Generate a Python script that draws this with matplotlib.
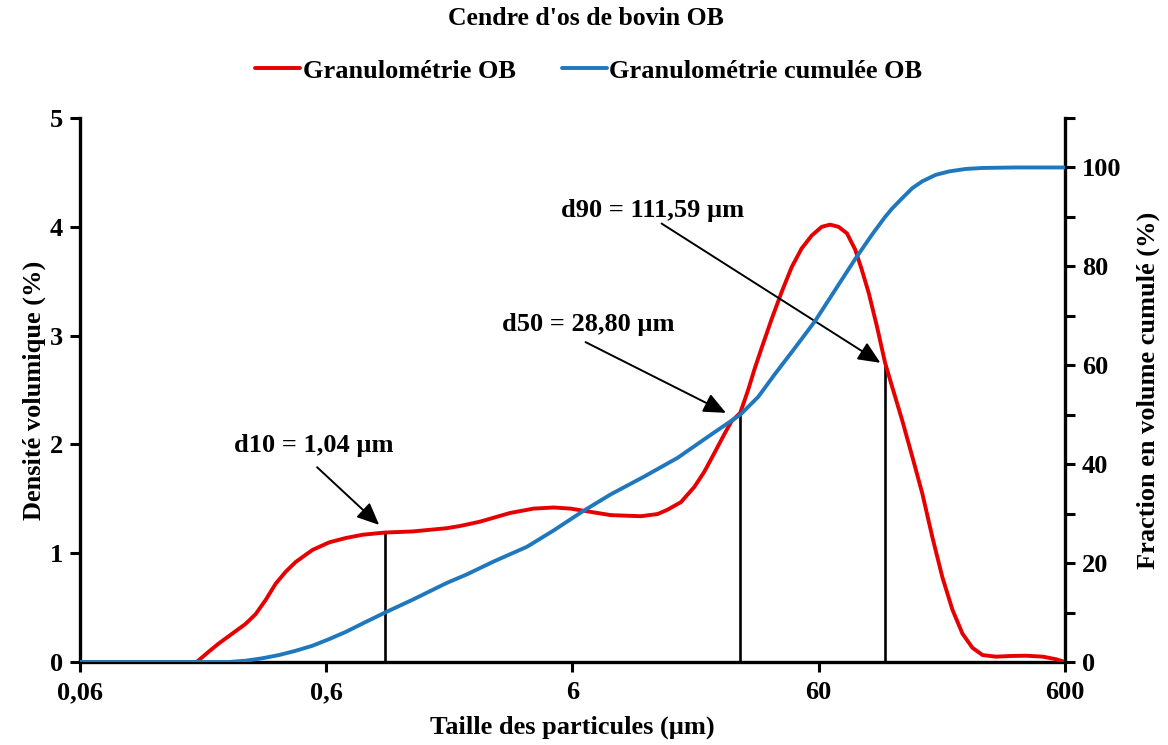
import matplotlib
matplotlib.use("Agg")
import matplotlib.pyplot as plt
import matplotlib.ticker as ticker

plt.rcParams['font.family'] = ['Liberation Serif', 'DejaVu Serif']
plt.rcParams['font.weight'] = 'bold'

# taille des particules (µm) et densité volumique (%)
size_red = [0.06, 0.1786, 0.1999, 0.2195, 0.2488, 0.2821, 0.310, 0.3404, 0.3739, 0.4107,
            0.4512, 0.5275, 0.6171, 0.7218, 0.844, 1.04, 1.346, 1.854, 2.094, 2.527,
            3.35, 4.17, 5.03, 5.89, 6.67, 8.58, 11.37, 13.3, 14.6, 16.55, 18.76, 20.6,
            22.6, 24.9, 26.5, 28.8, 31.0, 33.0, 35.1, 38.6, 42.4, 46.6, 51.1, 56.2,
            61.7, 66.7, 72.2, 78.1, 84.4, 89.9, 95.8, 103.5, 111.59, 119.2, 131.0,
            143.8, 158.0, 173.5, 190.6, 209.5, 230.1, 252.7, 277.6, 314.6, 356.9,
            417.0, 488.0, 553.0, 600.0]
density = [0.0, 0.0, 0.095, 0.17, 0.26, 0.35, 0.44, 0.57, 0.72, 0.83,
           0.92, 1.03, 1.10, 1.14, 1.17, 1.19, 1.20, 1.23, 1.25, 1.29,
           1.37, 1.41, 1.42, 1.41, 1.39, 1.35, 1.34, 1.36, 1.40, 1.47, 1.61, 1.75,
           1.92, 2.10, 2.21, 2.29, 2.50, 2.70, 2.88, 3.15, 3.40, 3.63, 3.80, 3.92,
           4.00, 4.02, 4.00, 3.94, 3.79, 3.60, 3.39, 3.08, 2.75, 2.53, 2.22,
           1.89, 1.55, 1.15, 0.78, 0.48, 0.26, 0.13, 0.064, 0.049, 0.055,
           0.058, 0.049, 0.025, 0.0]

# fraction en volume cumulée (%)
size_blue = [0.06, 0.2195, 0.241, 0.2821, 0.3297, 0.386, 0.4512, 0.5275, 0.6171, 0.7218,
             0.844, 1.04, 1.346, 1.854, 2.231, 2.864, 3.92, 5.03, 6.57, 8.58, 11.73,
             16.05, 21.95, 28.8, 34.05, 39.8, 48.0, 57.9, 69.9, 84.4, 98.7, 111.59,
             119.2, 131.0, 143.8, 158.0, 179.0, 203.0, 237.4, 277.6, 378.6, 600.0]
cumul = [0.0, 0.0, 0.0, 0.26, 0.75, 1.41, 2.28, 3.29, 4.64, 6.11,
         7.80, 10.0, 12.6, 16.0, 17.7, 20.3, 23.3, 26.6, 30.4, 33.9, 37.5,
         41.3, 46.0, 50.0, 53.6, 58.2, 63.5, 68.9, 75.2, 81.5, 86.4, 90.0,
         91.7, 93.8, 95.8, 97.2, 98.5, 99.2, 99.7, 99.9, 100.0, 100.0]

d_labels = ["d10 = 1,04 µm", "d50 = 28,80 µm", "d90 = 111,59 µm"]
d_values = [1.04, 28.80, 111.59]
d_heights = [1.19, 2.29, 2.75]
# positions du texte, départ et pointe des flèches (x en µm, y en densité)
text_pos = [(0.532, 1.99), (6.97, 3.10), (12.7, 4.15)]
arrow_from = [(0.551, 1.79), (6.78, 2.94), (13.8, 4.03)]
arrow_to = [(0.984, 1.26), (25.2, 2.29), (106.8, 2.75)]

xticks = [0.06, 0.6, 6, 60, 600]
xtick_labels = ["0,06", "0,6", "6", "60", "600"]

red = "#e60000"
blue = "#1f78be"
fs = 19

fig = plt.figure(figsize=(11.68, 7.45), dpi=100)
ax = fig.add_axes([0.0685, 0.1114, 0.8433, 0.7302])
ax2 = ax.twinx()

l1, = ax.plot(size_red, density, color=red, lw=2.8, zorder=3, solid_capstyle='round')
l2, = ax2.plot(size_blue, cumul, color=blue, lw=2.8, zorder=3, solid_capstyle='round')

for xv, h in zip(d_values, d_heights):
    ax.plot([xv, xv], [0, h], color="black", lw=1.9, zorder=2)

for lab, tp, af, at in zip(d_labels, text_pos, arrow_from, arrow_to):
    ax.text(tp[0], tp[1], lab, ha="center", va="center", fontsize=fs, fontweight="bold")
    ax.annotate("", xy=at, xytext=af,
                arrowprops=dict(arrowstyle="-|>,head_length=0.9,head_width=0.4",
                                mutation_scale=15, color="black", lw=1.4,
                                shrinkA=0, shrinkB=0))

ax.set_xscale("log")
ax.set_xlim(0.06, 600)
ax.set_ylim(0, 5)
ax2.set_ylim(0, 110)
ax.xaxis.set_major_locator(ticker.FixedLocator(xticks))
ax.xaxis.set_major_formatter(ticker.FixedFormatter(xtick_labels))
ax.xaxis.set_minor_locator(ticker.NullLocator())
ax.set_yticks([0, 1, 2, 3, 4, 5])
ax2.set_yticks([0, 20, 40, 60, 80, 100])
ax2.yaxis.set_minor_locator(ticker.MultipleLocator(10))

for a in (ax, ax2):
    a.spines["top"].set_visible(False)
    for s in a.spines.values():
        s.set_linewidth(2.4)
ax.spines["right"].set_visible(False)
ax2.spines["left"].set_visible(False)
ax2.spines["bottom"].set_visible(False)

ax.tick_params(axis="both", which="major", direction="out", length=7, width=2.2,
               labelsize=fs, pad=5)
ax.tick_params(axis="x", pad=7)
ax2.tick_params(axis="y", which="both", direction="out", length=7, width=2.2,
                labelsize=fs, pad=5)

ax.set_xlabel("Taille des particules (µm)", fontsize=fs, fontweight="bold", labelpad=8)
ax.set_ylabel("Densité volumique (%)", fontsize=fs, fontweight="bold", labelpad=3)
ax2.set_ylabel("Fraction en volume cumulé (%)", fontsize=fs, fontweight="bold", labelpad=11)

fig.text(0.502, 0.975, "Cendre d'os de bovin OB", ha="center", va="center",
         fontsize=18.5, fontweight="bold")
fig.legend([l1, l2], ["Granulométrie OB", "Granulométrie cumulée OB"],
           loc="center", bbox_to_anchor=(0.504, 0.905), ncol=2, frameon=False,
           fontsize=fs, handlelength=1.7, handletextpad=0.1, columnspacing=1.75)

fig.savefig("out.png", dpi=100)
